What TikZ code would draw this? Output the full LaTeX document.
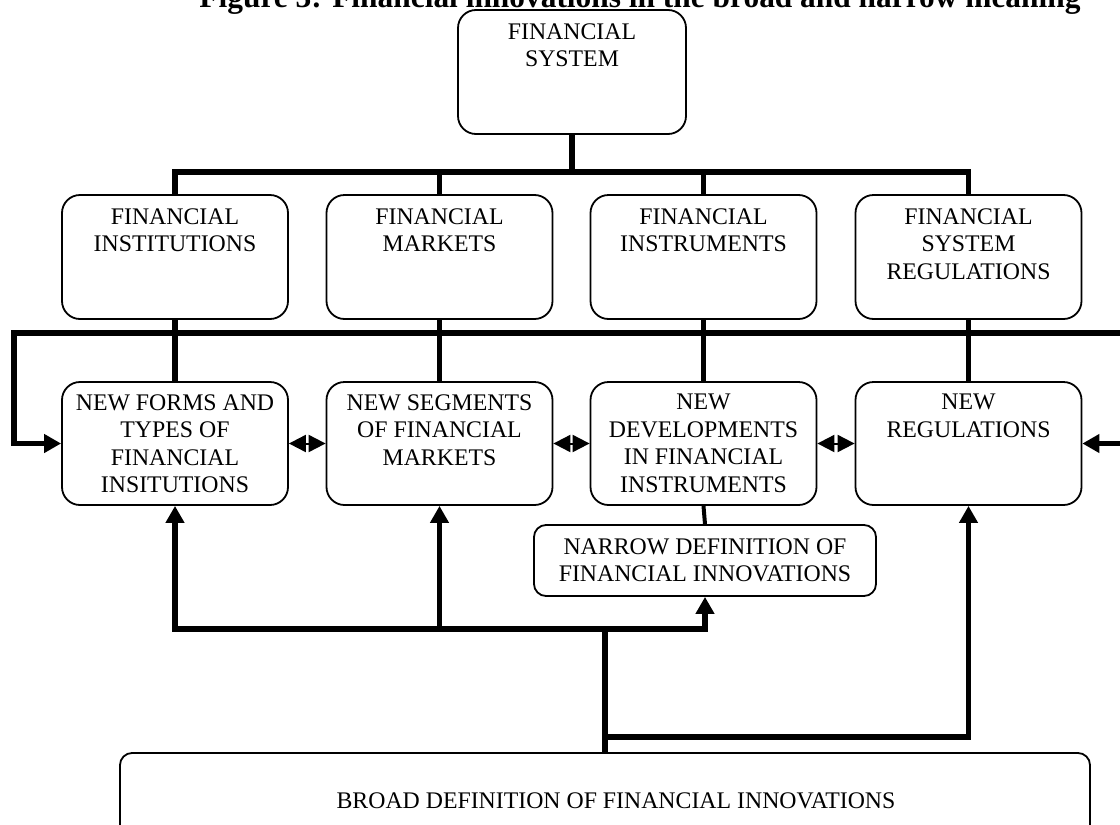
\documentclass[tikz,border=0pt]{standalone}
\usepackage{fontspec}
\setmainfont{Liberation Serif}
\usetikzlibrary{arrows.meta}
\tikzset{
  box/.style={draw, line width=1.8pt, rounded corners=18pt, inner sep=0pt},
  txt/.style={anchor=north, align=center, inner sep=0pt, font=\fontsize{23.8}{27.5}\selectfont},
  bus/.style={line width=5.5pt, line join=miter},
  tip/.tip={Triangle[length=17pt,width=18pt]},
  dbl/.style={line width=2pt, {Triangle[length=17pt,width=17pt]}-{Triangle[length=17pt,width=17pt]}}
}
\begin{document}
\begin{tikzpicture}[x=1pt,y=-1pt]
\useasboundingbox (0,0) rectangle (1120,825);
\clip (0,0) rectangle (1120,825);
% title (cut off at top)
\node[anchor=base, inner sep=0pt, font=\fontsize{31.4}{33}\selectfont\bfseries] (title) at (640,7) {Figure 3: Financial innovations in the broad and narrow meaning};
% top box
\node[box, fill=white, minimum width=228pt, minimum height=124pt] (fs) at (572,72) {};
\node[txt] (fst) at ([yshift=-14pt]fs.north) {FINANCIAL\\SYSTEM};
% row 2
\foreach \n/\x/\t in {fi/175/{FINANCIAL\\INSTITUTIONS}, fm/439.5/{FINANCIAL\\MARKETS}, fin/703.5/{FINANCIAL\\INSTRUMENTS}, fsr/968.5/{FINANCIAL\\SYSTEM\\REGULATIONS}}{
  \node[box, minimum width=226pt, minimum height=124pt] (\n) at (\x,257) {};
  \node[txt] (\n t) at ([yshift=-14pt]\n.north) {\t};
}
% row 3
\foreach \n/\x/\t in {nfi/175/{NEW FORMS AND\\TYPES OF\\FINANCIAL\\INSITUTIONS}, nsm/439.5/{NEW SEGMENTS\\OF FINANCIAL\\MARKETS}, ndi/703.5/{NEW\\DEVELOPMENTS\\IN FINANCIAL\\INSTRUMENTS}, nr/968.5/{NEW\\REGULATIONS}}{
  \node[box, minimum width=226pt, minimum height=123pt] (\n) at (\x,443.5) {};
  \node[txt] (\n t) at ([yshift=-13pt]\n.north) {\t};
}
% narrow definition
\node[box, rounded corners=12pt, minimum width=342pt, minimum height=71pt] (nd) at (705,560.5) {};
\node[txt, anchor=center] (ndt) at (nd.center) {NARROW DEFINITION OF\\FINANCIAL INNOVATIONS};
% broad definition (cut off at bottom)
\node[box, rounded corners=12pt, minimum width=970pt, minimum height=120pt] (bd) at (605,813) {};
\node[txt, anchor=center] (bdt) at (616,801) {BROAD DEFINITION OF FINANCIAL INNOVATIONS};
% coordinates
\coordinate (busy) at (0,172);
\coordinate (lL) at (14,333);
\coordinate (lR) at (1128,333);
\coordinate (h1) at (0,629);
\coordinate (h2) at (0,737);
% top bus
\draw[bus] (fs.south) -- (fs.south |- busy);
\draw[bus] (fi.north) -- (fi.north |- busy) -- (fsr.north |- busy) -- (fsr.north);
\draw[bus] (fm.north) -- (fm.north |- busy);
\draw[bus] (fin.north) -- (fin.north |- busy);
% row2 to row3
\draw[bus] (fi.south) -- (nfi.north);
\draw[bus] (fm.south) -- (nsm.north);
\draw[bus] (fin.south) -- (ndi.north);
\draw[bus] (fsr.south) -- (nr.north);
% second line with side arrows
\draw[bus,-tip] (lR) -- (lL) |- (nfi.west);
\draw[bus,-tip] (lR) |- (nr.east);
% double arrows between row3 boxes
\draw[dbl] (nfi.east) -- (nsm.west);
\draw[dbl] (nsm.east) -- (ndi.west);
\draw[dbl] (ndi.east) -- (nr.west);
% row3 to narrow
\draw[line width=4pt] (ndi.south) -- (nd.north);
% bottom connections
\draw[bus,tip-tip] (nfi.south) -- (nfi.south |- h1) -- (nd.south |- h1) -- (nd.south);
\draw[bus,-tip] (nsm.south |- h1) -- (nsm.south);
\draw[bus] (bd.north) -- (bd.north |- h1);
\draw[bus,-tip] (bd.north |- h2) -- (nr.south |- h2) -- (nr.south);
\end{tikzpicture}
\end{document}
